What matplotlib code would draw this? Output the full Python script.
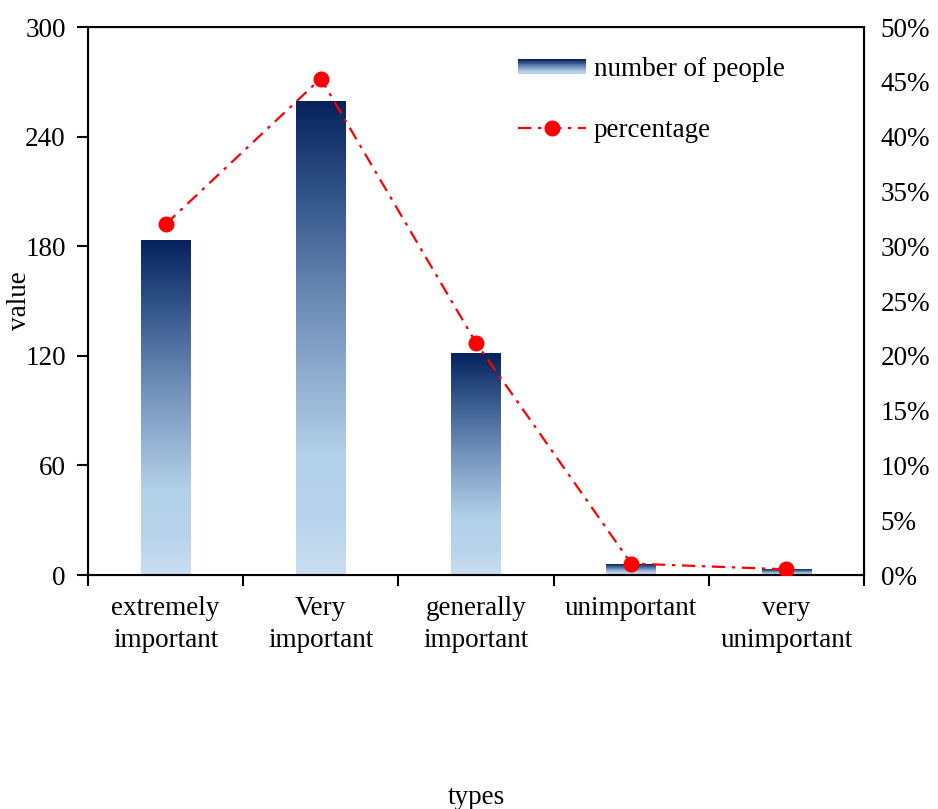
import numpy as np
import matplotlib
matplotlib.use("Agg")
from matplotlib import pyplot as plt
from matplotlib.colors import LinearSegmentedColormap
from matplotlib.legend_handler import HandlerBase
from matplotlib.patches import Rectangle
from matplotlib.ticker import FuncFormatter

plt.rcParams["font.family"] = ["Liberation Serif", "DejaVu Serif"]
plt.rcParams["font.size"] = 19.5

categories = ["extremely\nimportant", "Very\nimportant", "generally\nimportant",
              "unimportant", "very\nunimportant"]
people = [183, 259, 121, 6, 3]
percentage = [0.320, 0.453, 0.212, 0.0105, 0.0052]

# vertical gradient: light blue at the base, navy at the top
grad_cmap = LinearSegmentedColormap.from_list(
    "bar_grad",
    [(0.0, "#cbdef1"), (0.12, "#b6d3eb"), (0.25, "#b4d1ea"),
     (0.55, "#7392bb"), (0.8, "#33558a"), (1.0, "#06225c")])
grad = np.linspace(0, 1, 256).reshape(-1, 1)


def gradient_bar(ax, x0, width, height):
    ax.imshow(grad, cmap=grad_cmap, origin="lower", aspect="auto",
              extent=[x0, x0 + width, 0, height], zorder=2,
              interpolation="bilinear")


class GradientHandler(HandlerBase):
    def create_artists(self, legend, orig_handle, xdescent, ydescent,
                       width, height, fontsize, trans):
        arts = []
        n = 20
        h = height * 0.75
        y0 = -ydescent + (height - h) / 2
        for i in range(n):
            r = Rectangle((-xdescent, y0 + h * i / n), width, h / n + 0.3,
                          facecolor=grad_cmap(0.15 + 0.85 * i / (n - 1)),
                          edgecolor="none", transform=trans)
            arts.append(r)
        return arts


fig = plt.figure(figsize=(9.38, 8.09), dpi=100)
ax = fig.add_axes([0.0938, 0.2892, 0.8273, 0.6774])

x = np.arange(len(categories))
bar_w = 0.32
for xi, v in zip(x, people):
    gradient_bar(ax, xi - bar_w / 2, bar_w, v)

ax.set_xlim(-0.5, len(categories) - 0.5)
ax.set_ylim(0, 300)
ax.set_yticks(np.arange(0, 301, 60))
ax.set_xticks(np.arange(-0.5, len(categories), 1.0))
ax.set_xticklabels([])
ax.set_xticks(x, minor=True)
ax.set_xticklabels(categories, minor=True, linespacing=1.35)
ax.tick_params(axis="x", which="minor", length=0, pad=15)
ax.tick_params(axis="x", which="major", direction="out", length=8, width=1.5)
ax.tick_params(axis="y", direction="out", length=8, width=1.5, pad=8)
for s in ax.spines.values():
    s.set_linewidth(1.5)

ax2 = ax.twinx()
ax2.set_ylim(0, 0.5)
ax2.set_yticks(np.arange(0, 0.501, 0.05))
ax2.yaxis.set_major_formatter(FuncFormatter(lambda v, p: f"{v * 100:.0f}%"))
ax2.tick_params(axis="y", length=0, pad=12)
line, = ax2.plot(x, percentage, color="#ff0000", linestyle=(0, (6, 3, 1.5, 3)),
                 linewidth=1.6, marker="o", markersize=10.5, zorder=3)

bar_proxy = Rectangle((0, 0), 1, 1)
ax2.legend([bar_proxy, line], ["number of people", "percentage"],
           handler_map={Rectangle: GradientHandler()},
           loc="upper left", bbox_to_anchor=(0.523, 0.99), frameon=False,
           handlelength=2.5, handletextpad=0.3, labelspacing=1.35)

ax.set_zorder(1)
ax2.set_zorder(2)
ax2.patch.set_visible(False)

fig.text(0.021, 0.628, "value", rotation=90, ha="center", va="center")
fig.text(0.5075, 0.0148, "types", ha="center", va="center")

fig.savefig("out.png", dpi=100)
